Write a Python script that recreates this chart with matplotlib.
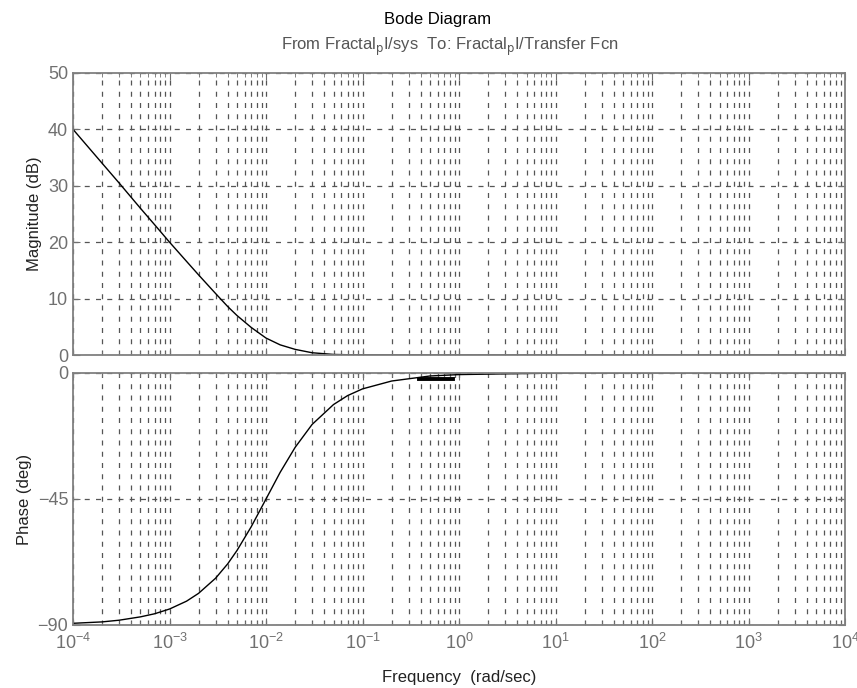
import matplotlib
matplotlib.use("Agg")
import matplotlib.pyplot as plt
import matplotlib.ticker as mticker

# values
freq = [1e-4, 2e-4, 3e-4, 5e-4, 7e-4, 1e-3, 1.5e-3, 2e-3, 3e-3, 4e-3, 5e-3,
        7e-3, 1e-2, 1.4e-2, 2e-2, 3e-2, 5e-2, 7e-2, 0.1, 0.2, 0.5, 1.0,
        10.0, 100.0, 1e3, 1e4]
mag_db = [40.0, 34.0, 30.5, 26.0, 23.1, 20.0, 16.6, 14.2, 10.9, 8.6, 7.0,
          4.9, 3.0, 1.8, 1.0, 0.4, 0.1, 0.05, 0.03, 0.01, 0.0, 0.0,
          0.0, 0.0, 0.0, 0.0]
phase_deg = [-89.4, -88.9, -88.3, -87.1, -86.0, -84.3, -81.5, -78.7, -73.3,
             -68.2, -63.4, -55.0, -45.0, -35.5, -26.6, -18.4, -11.3, -8.1,
             -5.7, -2.9, -1.1, -0.6, -0.06, 0.0, 0.0, 0.0]
# short thick piece on the phase curve near 1 rad/sec
thick_freq = [0.38, 0.87]
thick_phase = [-2.2, -2.2]

mag_ticks = [0, 10, 20, 30, 40, 50]
phase_ticks = [-90, -45, 0]

plt.rcParams["font.family"] = ["Liberation Sans", "DejaVu Sans"]

fig = plt.figure(figsize=(8.57, 6.88), dpi=100)
ax_mag = fig.add_axes([0.0852, 0.484, 0.901, 0.410])
ax_ph = fig.add_axes([0.0852, 0.0916, 0.901, 0.3664])

grid_kw = dict(color="#555555", linewidth=0.9, linestyle=(0, (4, 5)))

for ax in (ax_mag, ax_ph):
    ax.set_xscale("log")
    ax.set_xlim(1e-4, 1e4)
    ax.xaxis.set_major_locator(mticker.LogLocator(base=10, numticks=20))
    ax.xaxis.set_minor_locator(mticker.LogLocator(base=10, subs=range(2, 10), numticks=20))
    ax.xaxis.set_minor_formatter(mticker.NullFormatter())
    ax.grid(True, which="major", axis="both", **grid_kw)
    ax.grid(True, which="minor", axis="x", **grid_kw)
    ax.tick_params(which="both", direction="in", top=True, right=True,
                   colors="#707070", labelsize=13)
    ax.tick_params(which="major", length=5)
    ax.tick_params(which="minor", length=3)
    for sp in ax.spines.values():
        sp.set_color("#808080")
        sp.set_linewidth(1.3)

ax_mag.plot(freq, mag_db, color="black", linewidth=1.0)
ax_mag.set_ylim(0, 50)
ax_mag.set_yticks(mag_ticks)
ax_mag.tick_params(axis="x", labelbottom=False)
ax_mag.set_ylabel("Magnitude (dB)", fontsize=12, color="#222222", labelpad=4)

ax_ph.plot(freq, phase_deg, color="black", linewidth=1.0)
ax_ph.plot(thick_freq, thick_phase, color="black", linewidth=2.8)
ax_ph.set_ylim(-90, 0)
ax_ph.set_yticks(phase_ticks)
ax_ph.set_ylabel("Phase (deg)", fontsize=12, color="#222222", labelpad=4)
ax_ph.set_xlabel("Frequency  (rad/sec)", fontsize=12, color="#222222", labelpad=12)
ax_ph.tick_params(axis="x", pad=6)

fig.text(0.51, 0.972, "Bode Diagram", ha="center", va="center", fontsize=12, color="black")
fig.text(0.525, 0.932,
         r"From Fractal$_{\mathrm{p}}$I/sys  To: Fractal$_{\mathrm{p}}$I/Transfer Fcn",
         ha="center", va="center", fontsize=12, color="#555555")

fig.savefig("out.png", dpi=100)
